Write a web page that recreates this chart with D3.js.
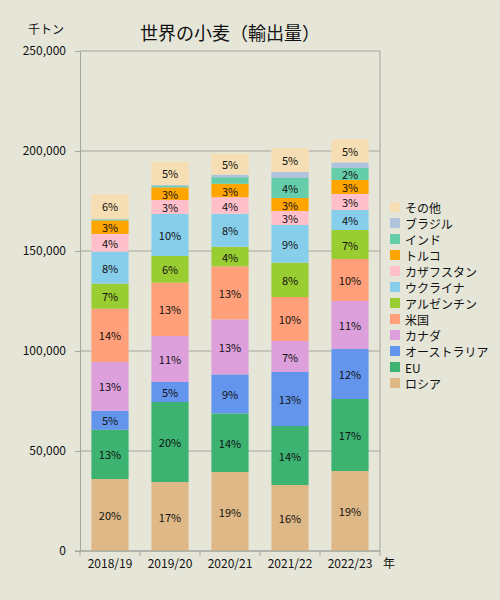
<!DOCTYPE html>
<html>
<head>
<meta charset="utf-8">
<script src="https://cdn.jsdelivr.net/npm/d3@7"></script>
<style>
  body { margin: 0; background: #e6e6d8; }
  text { font-family: "Noto Sans CJK JP", sans-serif; fill: #111; }
</style>
</head>
<body>
<div id="chart"></div>
<script>
// 千トン, bottom series first
const years = ['2018/19', '2019/20', '2020/21', '2021/22', '2022/23']
const countries = ['ロシア', 'EU', 'オーストラリア', 'カナダ', '米国', 'アルゼンチン',
  'ウクライナ', 'カザフスタン', 'トルコ', 'インド', 'ブラジル', 'その他']
const colors = ['#deb887', '#3cb371', '#6495ed', '#dda0dd', '#ffa07a', '#9acd32',
  '#87ceeb', '#ffc0cb', '#ffa500', '#66cdaa', '#b0c4de', '#f5deb3']

const russia = [36000, 34500, 39500, 33000, 40000]
const eu = [24600, 40000, 29300, 29500, 36000]
const australia = [9500, 10000, 19500, 27000, 25000]
const canada = [24400, 23000, 27500, 15500, 24000]
const usa = [26600, 26700, 26500, 22000, 21000]
const argentina = [12600, 13300, 9800, 17200, 14500]
const ukraine = [16000, 21000, 16500, 18800, 10000]
const kazakhstan = [8800, 7000, 8300, 7000, 8000]
const turkey = [6800, 6300, 6700, 6500, 7000]
const india = [500, 800, 3300, 10000, 6000]
const brazil = [300, 500, 1300, 3000, 2800]
const others = [12400, 11500, 10500, 12000, 11500]

const yTicks = [0, 50000, 100000, 150000, 200000, 250000]

const series = [russia, eu, australia, canada, usa, argentina,
  ukraine, kazakhstan, turkey, india, brazil, others]

const table = years.map((year, i) => {
  const row = { year: year }
  countries.forEach((c, j) => { row[c] = series[j][i] })
  return row
})

const width = 500
const height = 600
const plot = { left: 80, right: 380, top: 51, bottom: 551 }

const svg = d3.select('#chart')
  .append('svg')
  .attr('width', width)
  .attr('height', height)

svg.append('rect')
  .attr('width', width)
  .attr('height', height)
  .attr('fill', '#e6e6d8')

const x = d3.scaleBand()
  .domain(years)
  .range([plot.left, plot.right])
  .paddingInner(0.38)
  .paddingOuter(0.19)

const y = d3.scaleLinear()
  .domain([0, 250000])
  .range([plot.bottom, plot.top])

const color = d3.scaleOrdinal().domain(countries).range(colors)

// gridlines
svg.append('g')
  .selectAll('line')
  .data(yTicks)
  .enter()
  .append('line')
  .attr('x1', plot.left)
  .attr('x2', plot.right)
  .attr('y1', d => y(d))
  .attr('y2', d => y(d))
  .attr('stroke', '#a4a4a0')

// right border
svg.append('line')
  .attr('x1', plot.right).attr('x2', plot.right)
  .attr('y1', plot.top).attr('y2', plot.bottom)
  .attr('stroke', '#a4a4a0')

const stacked = d3.stack().keys(countries)(table)

const totals = table.map(row => d3.sum(countries, c => row[c]))

const layers = svg.append('g')
  .selectAll('g')
  .data(stacked)
  .enter()
  .append('g')
  .attr('fill', d => color(d.key))

layers.selectAll('rect')
  .data(d => d)
  .enter()
  .append('rect')
  .attr('x', d => x(d.data.year))
  .attr('width', x.bandwidth())
  .attr('y', d => y(d[1]))
  .attr('height', d => y(d[0]) - y(d[1]))

// percentage labels (truncated, small shares hidden)
layers.selectAll('text')
  .data(d => d.map((p, i) => ({
    p: p,
    pct: Math.floor((p[1] - p[0]) / totals[i] * 100)
  })).filter(d => d.pct >= 2))
  .enter()
  .append('text')
  .attr('x', d => x(d.p.data.year) + x.bandwidth() / 2)
  .attr('y', d => (y(d.p[0]) + y(d.p[1])) / 2)
  .attr('text-anchor', 'middle')
  .attr('dominant-baseline', 'central')
  .attr('font-size', 11)
  .text(d => d.pct + '%')

// y axis
const yAxis = d3.axisLeft(y)
  .tickValues(yTicks)
  .tickFormat(d3.format(','))
  .tickSizeInner(5)
  .tickSizeOuter(0)
  .tickPadding(9)

const yg = svg.append('g')
  .attr('transform', 'translate(' + plot.left + ',0)')
  .call(yAxis)
yg.selectAll('line, path').attr('stroke', '#a4a4a0')
yg.selectAll('text').attr('font-size', 12).style('font-family', '"Noto Sans CJK JP", sans-serif')

// x axis
const xg = svg.append('g')
xg.append('line')
  .attr('x1', plot.left - 5).attr('x2', plot.right)
  .attr('y1', plot.bottom).attr('y2', plot.bottom)
  .attr('stroke', '#a4a4a0')

const gap = (x.step() - x.bandwidth()) / 2
const edges = years.map(d => x(d) - gap).concat([plot.right])

xg.selectAll('.tick-mark')
  .data(edges)
  .enter()
  .append('line')
  .attr('class', 'tick-mark')
  .attr('x1', d => d).attr('x2', d => d)
  .attr('y1', plot.bottom).attr('y2', plot.bottom + 5)
  .attr('stroke', '#a4a4a0')

xg.selectAll('text')
  .data(years)
  .enter()
  .append('text')
  .attr('x', d => x(d) + x.bandwidth() / 2)
  .attr('y', 568)
  .attr('text-anchor', 'middle')
  .attr('font-size', 12)
  .text(d => d)

svg.append('text')
  .attr('x', 383)
  .attr('y', 568)
  .attr('font-size', 12)
  .text('年')

svg.append('text')
  .attr('x', 46)
  .attr('y', 34)
  .attr('text-anchor', 'middle')
  .attr('font-size', 12)
  .text('千トン')

svg.append('text')
  .attr('x', 230)
  .attr('y', 40)
  .attr('text-anchor', 'middle')
  .attr('font-size', 18)
  .text('世界の小麦（輸出量）')

// legend, top item is the last series
const legend = svg.append('g')
  .selectAll('g')
  .data(countries.slice().reverse())
  .enter()
  .append('g')
  .attr('transform', (d, i) => 'translate(390,' + (207 + i * 16) + ')')

legend.append('rect')
  .attr('x', 0)
  .attr('y', -5)
  .attr('width', 10)
  .attr('height', 10)
  .attr('fill', d => color(d))

legend.append('text')
  .attr('x', 15)
  .attr('y', 0)
  .attr('dominant-baseline', 'central')
  .attr('font-size', 12)
  .text(d => d)
</script>
</body>
</html>
